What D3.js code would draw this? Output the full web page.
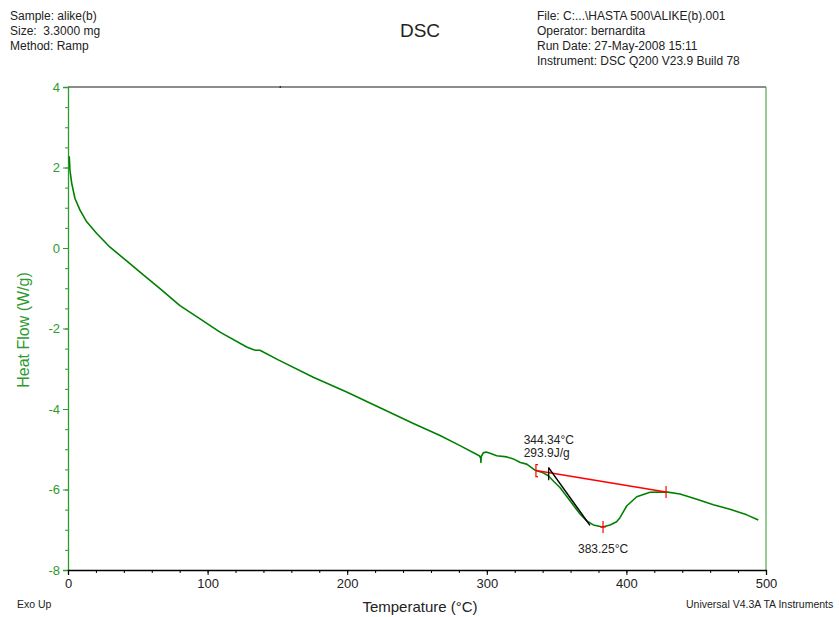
<!DOCTYPE html>
<html>
<head>
<meta charset="utf-8">
<script src="https://cdn.jsdelivr.net/npm/d3@7"></script>
<style>
  body { margin: 0; background: #fff; }
  svg { display: block; font-family: "Liberation Sans", Arial, sans-serif; }
</style>
</head>
<body>
<div id="chart"></div>
<script>
// DSC trace: temperature (°C) and heat flow (W/g)
const temperature = [0.9, 1.4, 2.7, 5.0, 8.6, 13.4, 20.6, 30.1, 42.0, 51.6, 65.9, 80.2, 94.6, 108.9,
    128.0, 133.0, 134.5, 137.5, 150.6, 175.7, 199.6, 223.5, 247.4, 266.5, 280.8, 294.6, 295.6, 295.8,
    296.0, 297.5, 299.5, 302.3, 307.1, 314.3, 319.0, 324.0, 328.6, 333.3, 335.2, 340.0, 344.1, 348.0,
    352.4, 359.6, 366.8, 371.6, 376.3, 383.0, 388.3, 393.0, 395.4, 400.2, 407.4, 416.9, 428.4, 438.4,
    450.4, 462.3, 474.2, 486.2, 494.5];
const heatFlow = [2.28, 1.93, 1.60, 1.23, 0.94, 0.65, 0.36, 0.02, -0.32, -0.60, -1.01, -1.43, -1.76, -2.09,
    -2.46, -2.53, -2.54, -2.54, -2.78, -3.21, -3.58, -3.97, -4.36, -4.66, -4.91, -5.16, -5.22, -5.33,
    -5.18, -5.09, -5.07, -5.10, -5.16, -5.19, -5.24, -5.33, -5.37, -5.49, -5.53, -5.58, -5.66, -5.80,
    -5.95, -6.28, -6.61, -6.78, -6.88, -6.93, -6.88, -6.80, -6.70, -6.41, -6.18, -6.07, -6.06, -6.11,
    -6.24, -6.38, -6.49, -6.63, -6.76];

// peak integration annotations
const baselinePts = [[335.2, -5.53], [428.4, -6.06]];
const tangentPts = [[344.1, -5.45], [373.9, -6.89]];
const onset = {t: 344.34, hf: -5.62, label: "344.34°C", enthalpy: "293.9J/g"};
const peak = {t: 383.25, hf: -6.93, label: "383.25°C"};

const xTicks = [0, 100, 200, 300, 400, 500];
const yTicks = [4, 2, 0, -2, -4, -6, -8];

const headerLeft = ["Sample: alike(b)", "Size:  3.3000 mg", "Method: Ramp"];
const headerRight = ["File: C:...\\HASTA 500\\ALIKE(b).001", "Operator: bernardita",
    "Run Date: 27-May-2008 15:11", "Instrument: DSC Q200 V23.9 Build 78"];

const W = 839, H = 617;
const margin = {top: 87, right: 73, bottom: 47, left: 68};
const width = W - margin.left - margin.right;
const height = H - margin.top - margin.bottom;

const green = "#2f9a2f";
const curveColor = "#008000";

const svg = d3.select("#chart").append("svg")
    .attr("width", W).attr("height", H);

// header text
svg.append("g").selectAll("text").data(headerLeft).join("text")
    .attr("x", 10).attr("y", (d, i) => 20 + i * 15)
    .attr("font-size", 12).attr("fill", "#222").attr("xml:space", "preserve")
    .style("white-space", "pre").text(d => d);
svg.append("g").selectAll("text").data(headerRight).join("text")
    .attr("x", 537).attr("y", (d, i) => 20 + i * 15)
    .attr("font-size", 12).attr("fill", "#222").text(d => d);
svg.append("text").attr("x", 420).attr("y", 37).attr("text-anchor", "middle")
    .attr("font-size", 19).attr("fill", "#222").text("DSC");

const g = svg.append("g").attr("transform", `translate(${margin.left},${margin.top})`);

const x = d3.scaleLinear().domain([0, 500]).range([0, width]);
const y = d3.scaleLinear().domain([-8, 4]).range([height, 0]);

// frame: top gray, right green
g.append("line").attr("x1", 0).attr("x2", width).attr("y1", 0).attr("y2", 0)
    .attr("stroke", "#666").attr("stroke-width", 1.5);
g.append("line").attr("x1", x(152)).attr("x2", x(152)).attr("y1", -1).attr("y2", 1)
    .attr("stroke", "#111").attr("stroke-width", 1);
g.append("line").attr("x1", width).attr("x2", width).attr("y1", 0).attr("y2", height)
    .attr("stroke", green).attr("stroke-width", 1);

// y axis (green)
const yMinor = g.append("g").call(d3.axisLeft(y).ticks(24).tickSize(3).tickFormat(""));
yMinor.select(".domain").remove();
yMinor.selectAll("line").attr("stroke", green);
const yAxis = g.append("g").call(d3.axisLeft(y).tickValues(yTicks).tickSize(5).tickPadding(3).tickFormat(d => String(d)));
yAxis.select(".domain").attr("stroke", green).attr("stroke-width", 1.3);
yAxis.selectAll("line").attr("stroke", green);
yAxis.selectAll("text").attr("fill", green).attr("font-size", 13)
    .attr("font-family", "Liberation Sans, Arial, sans-serif");

// x axis (black)
const xMinor = g.append("g").attr("transform", `translate(0,${height})`)
    .call(d3.axisBottom(x).ticks(20).tickSize(3).tickFormat(""));
xMinor.select(".domain").remove();
xMinor.selectAll("line").attr("stroke", "#000");
const xAxis = g.append("g").attr("transform", `translate(0,${height})`)
    .call(d3.axisBottom(x).tickValues(xTicks).tickSize(5).tickPadding(4).tickFormat(d => String(d)));
xAxis.select(".domain").attr("stroke", "#000").attr("stroke-width", 1.3);
xAxis.selectAll("text").attr("fill", "#222").attr("font-size", 13)
    .attr("font-family", "Liberation Sans, Arial, sans-serif");

// the DSC trace
const data = temperature.map((t, i) => [t, heatFlow[i]]);
const line = d3.line().x(d => x(d[0])).y(d => y(d[1]));
g.append("path").datum(data).attr("d", line)
    .attr("fill", "none").attr("stroke", curveColor).attr("stroke-width", 1.6)
    .attr("stroke-linejoin", "round");

// integration baseline and onset tangent
g.append("path").datum(baselinePts).attr("d", line)
    .attr("fill", "none").attr("stroke", "#ff0000").attr("stroke-width", 1.5);
g.append("path").datum(tangentPts).attr("d", line)
    .attr("fill", "none").attr("stroke", "#000").attr("stroke-width", 1.5);

// limit markers
const bx0 = x(baselinePts[0][0]), by0 = y(baselinePts[0][1]);
g.append("path").attr("d", `M${bx0 + 2},${by0 - 6}H${bx0}V${by0 + 6}H${bx0 + 2}`)
    .attr("fill", "none").attr("stroke", "#ff0000").attr("stroke-width", 1.2);
const bx1 = x(baselinePts[1][0]), by1 = y(baselinePts[1][1]);
g.append("line").attr("x1", bx1).attr("x2", bx1).attr("y1", by1 - 6).attr("y2", by1 + 6)
    .attr("stroke", "#ff0000").attr("stroke-width", 1.2);
const ox = x(onset.t), oy = y(onset.hf);
g.append("line").attr("x1", ox).attr("x2", ox).attr("y1", oy - 6).attr("y2", oy + 6)
    .attr("stroke", "#000").attr("stroke-width", 1.2);
const px = x(peak.t), py = y(peak.hf);
g.append("line").attr("x1", px).attr("x2", px).attr("y1", py - 6).attr("y2", py + 6)
    .attr("stroke", "#ff0000").attr("stroke-width", 1.2);
g.append("line").attr("x1", px - 3).attr("x2", px + 3).attr("y1", py).attr("y2", py)
    .attr("stroke", "#ff0000").attr("stroke-width", 1.2);

// annotation labels
g.append("text").attr("x", ox - 25).attr("y", oy - 30).attr("font-size", 12).attr("fill", "#222")
    .text(onset.label);
g.append("text").attr("x", ox - 25).attr("y", oy - 17).attr("font-size", 12).attr("fill", "#222")
    .text(onset.enthalpy);
g.append("text").attr("x", px - 25).attr("y", py + 26).attr("font-size", 12).attr("fill", "#222")
    .text(peak.label);

// axis titles and footer
svg.append("text").attr("transform", "translate(29,330) rotate(-90)").attr("text-anchor", "middle")
    .attr("font-size", 16).attr("fill", green).text("Heat Flow (W/g)");
svg.append("text").attr("x", 420).attr("y", 612).attr("text-anchor", "middle")
    .attr("font-size", 15).attr("fill", "#222").text("Temperature (°C)");
svg.append("text").attr("x", 17).attr("y", 608).attr("font-size", 10.5).attr("fill", "#222").text("Exo Up");
svg.append("text").attr("x", 686).attr("y", 608).attr("font-size", 10.5).attr("fill", "#222")
    .text("Universal V4.3A TA Instruments");
</script>
</body>
</html>
